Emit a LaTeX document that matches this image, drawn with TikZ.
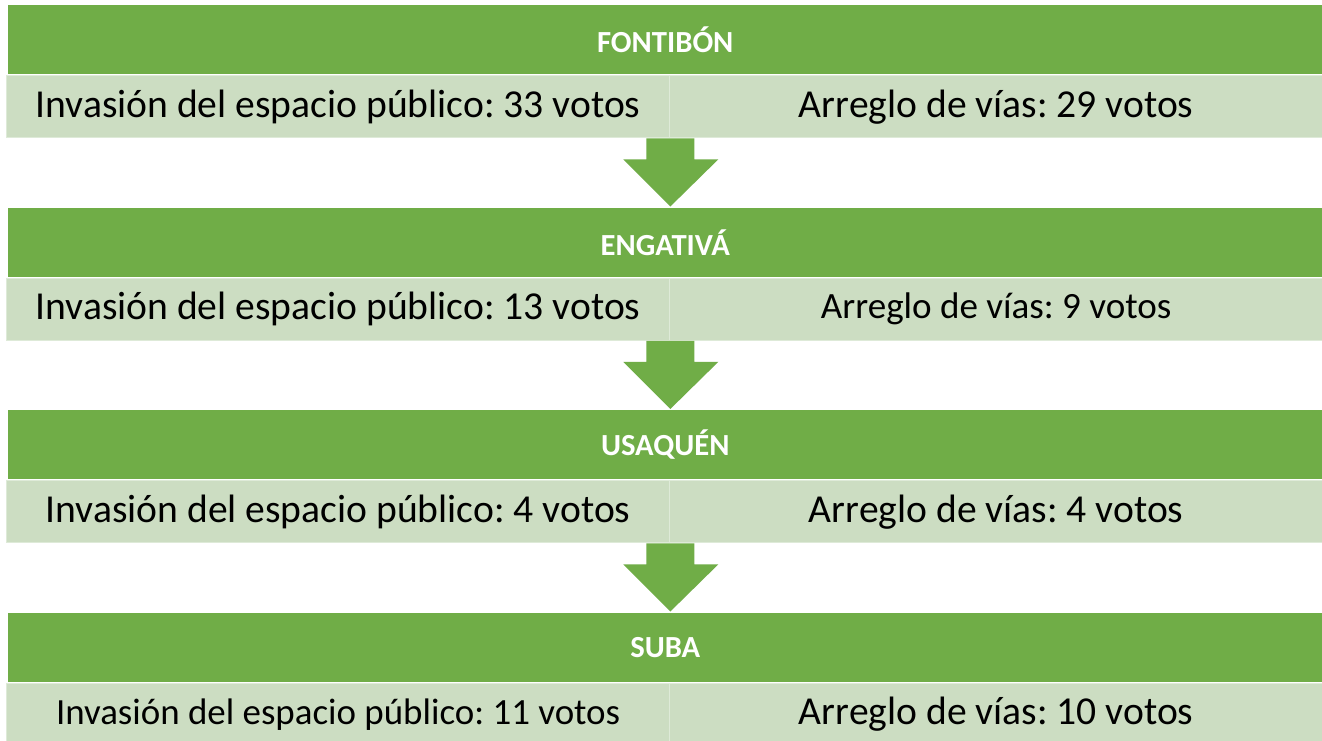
\documentclass[tikz,border=0pt]{standalone}
\usepackage{fontspec}
\setmainfont{Carlito}
\usepackage{tikz}
\usetikzlibrary{positioning,calc}
\definecolor{verde}{RGB}{112,173,71}
\definecolor{verdeclaro}{RGB}{204,221,194}
\definecolor{bordeclaro}{RGB}{222,234,216}
\tikzstyle{titulo} = [anchor=north west,fill=verde,text=white,inner sep=0pt,minimum width=985.5pt,minimum height=51.75pt,font=\fontsize{23}{27}\selectfont\bfseries]
\tikzstyle{celda} = [anchor=north west,fill=verdeclaro,draw=bordeclaro,line width=1pt,inner sep=0pt,minimum height=46.5pt]
\tikzstyle{flecha} = [fill=verde]
\frenchspacing

\begin{document}
\begin{tikzpicture}[x=0.75pt,y=-0.75pt]
	% Fondo y marco:
	\fill[white] (0,0) rectangle (1322,740);
	\useasboundingbox (0,0) rectangle (1322,740);
	
	% Localidades con sus dos temas (y tamaño de letra de cada celda):
	\foreach \loc/\izq/\der/\ti/\td [count=\i from 0] in {FONTIBÓN/33/29/29.7/29.7,ENGATIVÁ/13/9/29.7/27.8,USAQUÉN/4/4/29.7/29.7,SUBA/11/10/27.7/29.7}
	{
		\node[titulo] (h\i) at (8,{5+202.5*\i}) {\loc};
		\node[celda,minimum width=497.25pt,font=\fontsize{\ti}{34}\selectfont] (izq\i) at (6,{75+202.5*\i}) {Invasión del espacio público: \izq{} votos};
		\node[celda,minimum width=489.75pt,font=\fontsize{\td}{34}\selectfont] (der\i) at (669,{75+202.5*\i}) {Arreglo de vías: \der{} votos};
	}
	
	% Flechas hacia abajo:
	\foreach \i in {0,1,2}
	{
		\pgfmathtruncatemacro{\j}{\i+1}
		\fill[flecha] ($(izq\i.south east)+(-24,0)$) -- ++(0,21) -- ++(-23,0)
			-- ($(h\j.north -| izq\i.south east)+(0,-1)$)
			-- ($(izq\i.south east)+(48,21)$) -- ++(-24,0) -- ++(0,-21) -- cycle;
	}
\end{tikzpicture}
\end{document}
